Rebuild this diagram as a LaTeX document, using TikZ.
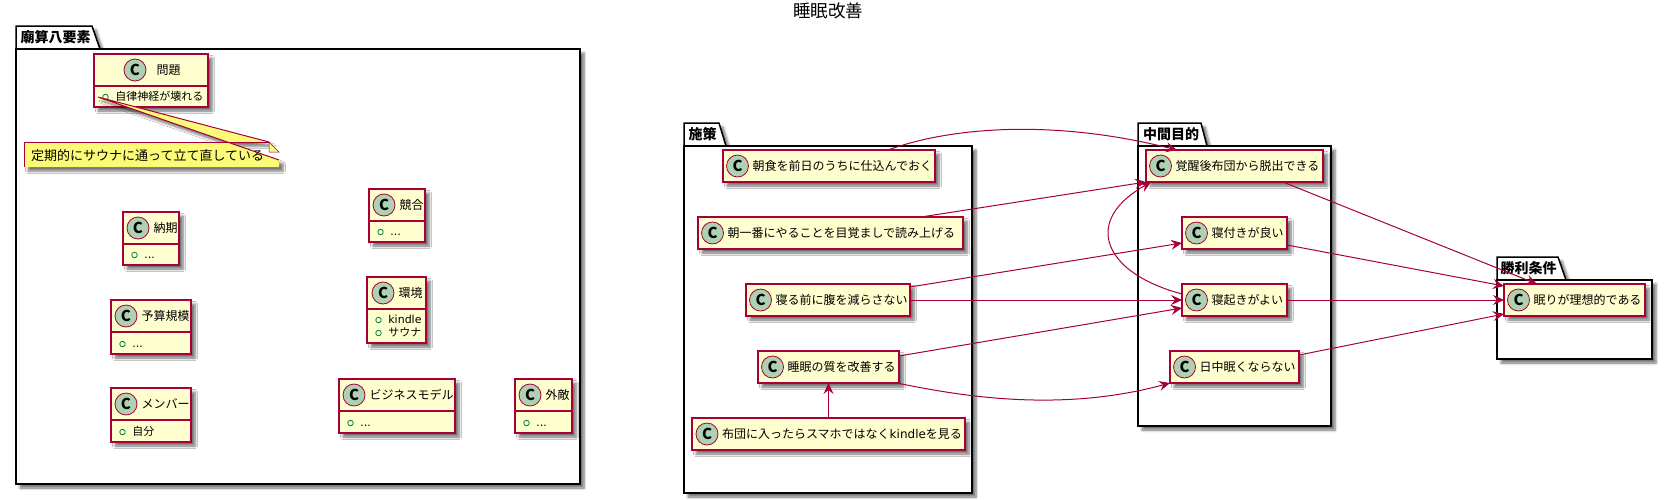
\documentclass[tikz,border=0pt]{standalone}
\usepackage{fontspec}
\setmainfont{Noto Sans CJK JP}
\newfontfamily\latinfont{DejaVu Sans}
\usepackage{tikz}
\usetikzlibrary{arrows.meta,positioning,calc,shadows.blur}
\definecolor{umlred}{HTML}{A80036}
\definecolor{umlfill}{HTML}{FEFECE}
\definecolor{spotgreen}{HTML}{ADD1B2}
\definecolor{notefill}{HTML}{FBFB77}
\definecolor{memgreen}{HTML}{038048}

\begin{document}
\begin{tikzpicture}[
    x=1pt, y=-1pt,
    softshadow/.style={blur shadow={shadow xshift=4pt, shadow yshift=-4pt, shadow blur radius=2.5pt, shadow blur steps=6, shadow opacity=55}},
    pkg/.style={draw=black, fill=white, line width=1.5pt, anchor=north west, inner sep=0pt, outer sep=0pt, softshadow},
    pkgtab/.style={draw=black, fill=white, line width=1.5pt, softshadow},
    pkgname/.style={anchor=west, inner sep=0pt, font=\fontsize{14}{16}\selectfont\bfseries},
    cls/.style={draw=umlred, fill=umlfill, line width=1.5pt, anchor=north west, inner sep=0pt, outer sep=0pt, softshadow},
    single/.style={cls, minimum height=32pt},
    cdiv/.style={draw=umlred, line width=1.5pt},
    spot/.style={circle, draw=umlred, fill=spotgreen, line width=0.8pt, minimum size=22pt, inner sep=0pt, font=\fontsize{15}{15}\selectfont\bfseries},
    ctext/.style={inner sep=0pt, text height=10pt, text depth=2pt, font=\fontsize{12}{14}\selectfont},
    bullet/.style={circle, draw=memgreen, line width=0.8pt, minimum size=5.5pt, inner sep=0pt},
    mtext/.style={inner sep=0pt, text height=9pt, text depth=2pt, font=\fontsize{11}{13}\selectfont},
    link/.style={draw=umlred, line width=1pt, -{Stealth[length=11pt,width=10pt,inset=4pt]}}
  ]
    \useasboundingbox (0,0) rectangle (1668,499);

    \node[font=\fontsize{17.5}{20}\selectfont, inner sep=0pt] (title) at (828,11) {睡眠改善};

    % packages
    \coordinate (p1o) at (16,49);
    \draw[pkgtab] (p1o) -- ++(0,-23) -- ++(76,0) -- ++(8,23) -- cycle;
    \node[pkg, minimum width=564pt, minimum height=435pt] (miao) at (p1o) {};
    \node[pkgname] (miaoT) at (20.5,37.5) {廟算八要素};

    \coordinate (p2o) at (684,146);
    \draw[pkgtab] (p2o) -- ++(0,-23) -- ++(35,0) -- ++(7,23) -- cycle;
    \node[pkg, minimum width=288pt, minimum height=347pt] (sesaku) at (p2o) {};
    \node[pkgname] (sesakuT) at (688.5,134.5) {施策};

    \coordinate (p3o) at (1138,146);
    \draw[pkgtab] (p3o) -- ++(0,-23) -- ++(63,0) -- ++(6,23) -- cycle;
    \node[pkg, minimum width=193pt, minimum height=280pt] (chukan) at (p3o) {};
    \node[pkgname] (chukanT) at (1143,134.5) {中間目的};

    \coordinate (p4o) at (1497,280);
    \draw[pkgtab] (p4o) -- ++(0,-23) -- ++(61,0) -- ++(8,23) -- cycle;
    \node[pkg, minimum width=155pt, minimum height=79pt] (shori) at (p4o) {};
    \node[pkgname] (shoriT) at (1500.5,268.5) {勝利条件};

    % classes with members
    \node[cls, minimum width=114pt, minimum height=53pt] (mondai) at (94,54) {};
    \draw[cdiv] ([shift={(0,32)}]mondai.north west) -- ([shift={(0,32)}]mondai.north east);
    \node[spot] (mondaiC) at ([shift={(41,16)}]mondai.north west) {C};
    \node[ctext, right=10pt of mondaiC] (mondaiT) {問題};
    \node[bullet] (mondaiB) at ([shift={(11.5,-10)}]mondai.south west) {};
    \node[mtext, right=6.5pt of mondaiB] (mondaiM) {自律神経が壊れる};

    \node[cls, minimum width=56pt, minimum height=53pt] (nouki) at (123,212) {};
    \draw[cdiv] ([shift={(0,32)}]nouki.north west) -- ([shift={(0,32)}]nouki.north east);
    \node[spot] (noukiC) at ([shift={(15,16)}]nouki.north west) {C};
    \node[ctext, right=4pt of noukiC] (noukiT) {納期};
    \node[bullet] (noukiB) at ([shift={(11.5,-10)}]nouki.south west) {};
    \node[mtext, right=6.5pt of noukiB] (noukiM) {\latinfont ...};

    \node[cls, minimum width=80pt, minimum height=54pt] (yosan) at (111,300) {};
    \draw[cdiv] ([shift={(0,32)}]yosan.north west) -- ([shift={(0,32)}]yosan.north east);
    \node[spot] (yosanC) at ([shift={(15,16)}]yosan.north west) {C};
    \node[ctext, right=4pt of yosanC] (yosanT) {予算規模};
    \node[bullet] (yosanB) at ([shift={(11.5,-10)}]yosan.south west) {};
    \node[mtext, right=6.5pt of yosanB] (yosanM) {\latinfont ...};

    \node[cls, minimum width=80pt, minimum height=54pt] (menba) at (111,388) {};
    \draw[cdiv] ([shift={(0,32)}]menba.north west) -- ([shift={(0,32)}]menba.north east);
    \node[spot] (menbaC) at ([shift={(15,16)}]menba.north west) {C};
    \node[ctext, right=4pt of menbaC] (menbaT) {メンバー};
    \node[bullet] (menbaB) at ([shift={(11.5,-10)}]menba.south west) {};
    \node[mtext, right=6.5pt of menbaB] (menbaM) {自分};

    \node[cls, minimum width=56pt, minimum height=53pt] (kyogo) at (369,189) {};
    \draw[cdiv] ([shift={(0,32)}]kyogo.north west) -- ([shift={(0,32)}]kyogo.north east);
    \node[spot] (kyogoC) at ([shift={(15,16)}]kyogo.north west) {C};
    \node[ctext, right=4pt of kyogoC] (kyogoT) {競合};
    \node[bullet] (kyogoB) at ([shift={(11.5,-10)}]kyogo.south west) {};
    \node[mtext, right=6.5pt of kyogoB] (kyogoM) {\latinfont ...};

    \node[cls, minimum width=59pt, minimum height=66pt] (kankyo) at (367,277) {};
    \draw[cdiv] ([shift={(0,32)}]kankyo.north west) -- ([shift={(0,32)}]kankyo.north east);
    \node[spot] (kankyoC) at ([shift={(16,16)}]kankyo.north west) {C};
    \node[ctext, right=4pt of kankyoC] (kankyoT) {環境};
    \node[bullet] (kankyoB) at ([shift={(11.5,-23)}]kankyo.south west) {};
    \node[mtext, right=6.5pt of kankyoB] (kankyoM) {\latinfont kindle};
    \node[bullet] (kankyoD) at ([shift={(11.5,-10)}]kankyo.south west) {};
    \node[mtext, right=6.5pt of kankyoD] (kankyoN) {サウナ};

    \node[cls, minimum width=116pt, minimum height=54pt] (model) at (339,379) {};
    \draw[cdiv] ([shift={(0,32)}]model.north west) -- ([shift={(0,32)}]model.north east);
    \node[spot] (modelC) at ([shift={(15,16)}]model.north west) {C};
    \node[ctext, right=4pt of modelC] (modelT) {ビジネスモデル};
    \node[bullet] (modelB) at ([shift={(11.5,-10)}]model.south west) {};
    \node[mtext, right=6.5pt of modelB] (modelM) {\latinfont ...};

    \node[cls, minimum width=57pt, minimum height=54pt] (gaiteki) at (515,379) {};
    \draw[cdiv] ([shift={(0,32)}]gaiteki.north west) -- ([shift={(0,32)}]gaiteki.north east);
    \node[spot] (gaitekiC) at ([shift={(15,16)}]gaiteki.north west) {C};
    \node[ctext, right=4pt of gaitekiC] (gaitekiT) {外敵};
    \node[bullet] (gaitekiB) at ([shift={(11.5,-10)}]gaiteki.south west) {};
    \node[mtext, right=6.5pt of gaitekiB] (gaitekiM) {\latinfont ...};

    % note on the member of mondai
    \node[minimum width=255pt, minimum height=25pt, anchor=north west, inner sep=0pt, outer sep=0pt] (memo) at (24,142) {};
    \coordinate (memoP) at (98,97);
    \fill[notefill, softshadow] (memo.north west) -- ([shift={(-10,0)}]memo.north east) -- (memoP) -- ([shift={(0,18)}]memo.north east) -- (memo.south east) -- (memo.south west) -- cycle;
    \draw[umlred, line width=0.5pt] (memo.south west) -- (memo.north west) -- ([shift={(-10,0)}]memo.north east);
    \draw[umlred, line width=1pt] ([shift={(-10,0)}]memo.north east) -- (memoP) -- ([shift={(0,18)}]memo.north east);
    \filldraw[fill=notefill, draw=umlred, line width=0.5pt] ([shift={(-10,0)}]memo.north east) -- ([shift={(-10,10)}]memo.north east) -- ([shift={(0,10)}]memo.north east) -- cycle;
    \node[inner sep=0pt, anchor=west, font=\fontsize{13}{15}\selectfont] (memoT) at (31,155.5) {定期的にサウナに通って立て直している};

    % measures
    \node[single, minimum width=212pt] (asa) at (723,150) {};
    \node[spot] (asaC) at ([shift={(14.5,16)}]asa.north west) {C};
    \node[ctext, right=3.5pt of asaC] (asaT) {朝食を前日のうちに仕込んでおく};

    \node[single, minimum width=265pt] (ichi) at (698,217) {};
    \node[spot] (ichiC) at ([shift={(14.5,16)}]ichi.north west) {C};
    \node[ctext, right=3.5pt of ichiC] (ichiT) {朝一番にやることを目覚ましで読み上げる};

    \node[single, minimum width=164pt] (neru) at (746,284) {};
    \node[spot] (neruC) at ([shift={(14.5,16)}]neru.north west) {C};
    \node[ctext, right=3.5pt of neruC] (neruT) {寝る前に腹を減らさない};

    \node[single, minimum width=141pt] (suimin) at (758,351) {};
    \node[spot] (suiminC) at ([shift={(14.5,16)}]suimin.north west) {C};
    \node[ctext, right=3.5pt of suiminC] (suiminT) {睡眠の質を改善する};

    \node[single, minimum width=273pt] (futon) at (692,418) {};
    \node[spot] (futonC) at ([shift={(15,16)}]futon.north west) {C};
    \node[ctext, right=3.5pt of futonC] (futonT) {布団に入ったらスマホではなく{\latinfont kindle}を見る};

    % intermediate goals
    \node[single, minimum width=177pt] (kakusei) at (1146,150) {};
    \node[spot] (kakuseiC) at ([shift={(14.5,16)}]kakusei.north west) {C};
    \node[ctext, right=3.5pt of kakuseiC] (kakuseiT) {覚醒後布団から脱出できる};

    \node[single, minimum width=105pt] (netsuki) at (1182,217) {};
    \node[spot] (netsukiC) at ([shift={(14.5,16)}]netsuki.north west) {C};
    \node[ctext, right=3.5pt of netsukiC] (netsukiT) {寝付きが良い};

    \node[single, minimum width=105pt] (neoki) at (1182,284) {};
    \node[spot] (neokiC) at ([shift={(14.5,16)}]neoki.north west) {C};
    \node[ctext, right=3.5pt of neokiC] (neokiT) {寝起きがよい};

    \node[single, minimum width=129pt] (nicchu) at (1170,351) {};
    \node[spot] (nicchuC) at ([shift={(14.5,16)}]nicchu.north west) {C};
    \node[ctext, right=3.5pt of nicchuC] (nicchuT) {日中眠くならない};

    % win condition
    \node[single, minimum width=141pt] (nemuri) at (1504,284) {};
    \node[spot] (nemuriC) at ([shift={(14.5,16)}]nemuri.north west) {C};
    \node[ctext, right=3.5pt of nemuriC] (nemuriT) {眠りが理想的である};

    % links
    \draw[link] ([shift={(165,0)}]asa.north west) .. controls +(60,-22) and +(-127,-32) .. ([shift={(31,0)}]kakusei.north west);
    \draw[link] ([shift={(223,0)}]ichi.north west) -- (kakusei.south west);
    \draw[link] ([shift={(0,-13)}]neru.east) -- ([shift={(0,10)}]netsuki.west);
    \draw[link] (neru.east) -- (neoki.west);
    \draw[link] ([shift={(0,-11)}]suimin.east) -- ([shift={(0,8)}]neoki.west);
    \draw[link] ([shift={(-2,0)}]suimin.south east) .. controls +(63,13) and +(-110,30) .. (nicchu.south west);
    \draw[link] (futon.north) -- (suimin.south);
    \draw[link] ([shift={(0,-6)}]neoki.west) .. controls +(-52,-14) and +(0,22) .. ([shift={(-38,51)}]kakusei.south west) .. controls +(0,-23) and +(-21,12) .. ([shift={(5,0)}]kakusei.south west);
    \draw[link] ([shift={(137,0)}]kakusei.south west) -- ([shift={(33,0)}]nemuri.north west);
    \draw[link] ([shift={(0,12)}]netsuki.east) -- ([shift={(0,-14)}]nemuri.west);
    \draw[link] (neoki.east) -- (nemuri.west);
    \draw[link] ([shift={(0,-12)}]nicchu.east) -- ([shift={(0,14)}]nemuri.west);
  \end{tikzpicture}
\end{document}
